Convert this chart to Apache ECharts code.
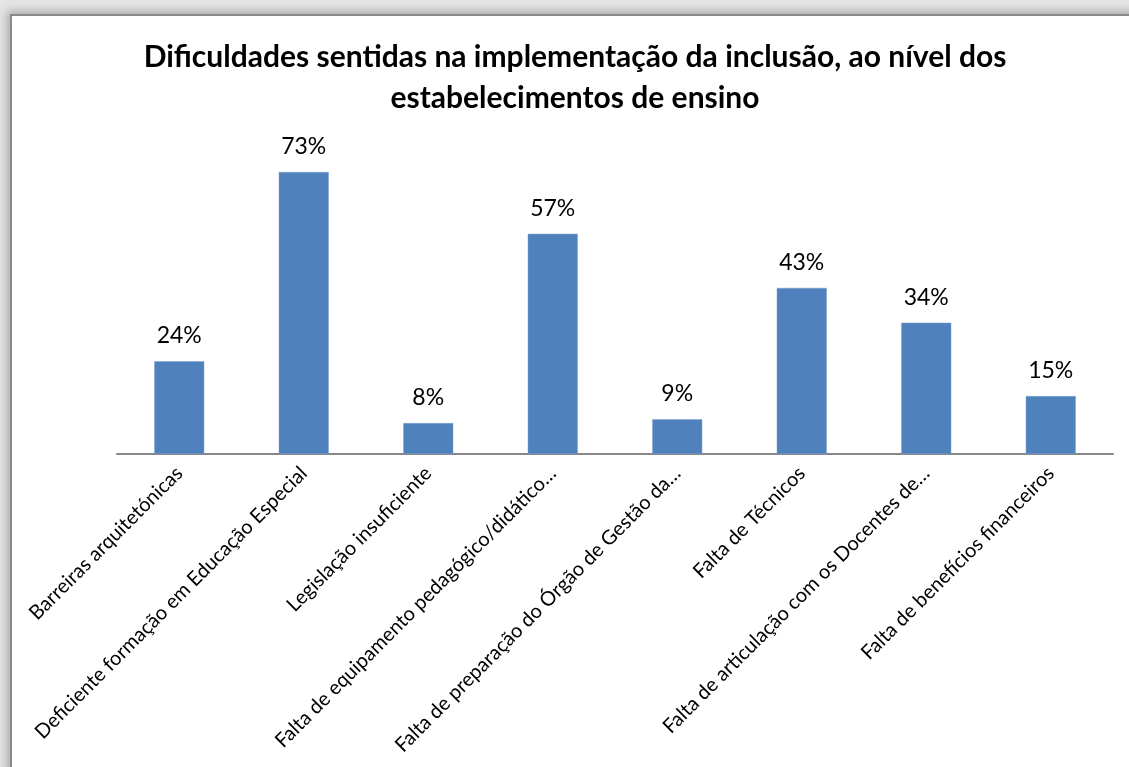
<!DOCTYPE html>
<html>
<head>
<meta charset="utf-8">
<script src="https://cdn.jsdelivr.net/npm/echarts@6/dist/echarts.min.js"></script>
<style>
  html, body { margin: 0; padding: 0; width: 1129px; height: 767px; overflow: hidden; background: #e4e4e4; }
  #frame { position: absolute; left: 10px; top: 14px; width: 1140px; height: 780px; background: #fff;
           border: 2px solid #8a8a8a; box-shadow: 0 0 8px 3px rgba(0,0,0,0.25); }
  #chart { position: absolute; left: 0; top: 0; width: 1150px; height: 767px; }
</style>
</head>
<body>
<div id="frame"></div>
<div id="chart"></div>
<script>
const titleText = "Dificuldades sentidas na implementação da inclusão, ao nível dos\nestabelecimentos de ensino";
const categories = [
  "Barreiras arquitetónicas",
  "Deficiente formação em Educação Especial",
  "Legislação insuficiente",
  "Falta de equipamento pedagógico/didático…",
  "Falta de preparação do Órgão de Gestão da…",
  "Falta de Técnicos",
  "Falta de articulação com os Docentes de…",
  "Falta de benefícios financeiros"
];
const values = [24, 73, 8, 57, 9, 43, 34, 15];

const chart = echarts.init(document.getElementById('chart'), null, { renderer: 'canvas' });
chart.setOption({
  backgroundColor: 'transparent',
  animation: false,
  title: {
    text: titleText,
    left: 'center',
    top: 32,
    textStyle: { fontFamily: 'Lato', fontWeight: 'bold', fontSize: 30, lineHeight: 41, color: '#000' }
  },
  grid: { left: 117, right: 37, top: 145, bottom: 313, containLabel: false },
  xAxis: {
    type: 'category',
    data: categories,
    axisLine: { show: true, lineStyle: { color: '#878787', width: 2 } },
    axisTick: { show: false },
    axisLabel: {
      rotate: 45, interval: 0, margin: 16,
      fontFamily: 'Lato', fontSize: 20, color: '#000'
    }
  },
  yAxis: {
    type: 'value', min: 0, max: 80,
    show: false,
    splitLine: { show: false }
  },
  series: [{
    type: 'bar',
    data: values,
    barWidth: 50,
    itemStyle: { color: '#4F81BD', borderColor: '#7FA3D0', borderWidth: 0.5 },
    label: {
      show: true, position: 'top', distance: 14,
      formatter: p => p.value + '%',
      fontFamily: 'Lato', fontSize: 23, color: '#000'
    }
  }]
});
</script>
</body>
</html>
